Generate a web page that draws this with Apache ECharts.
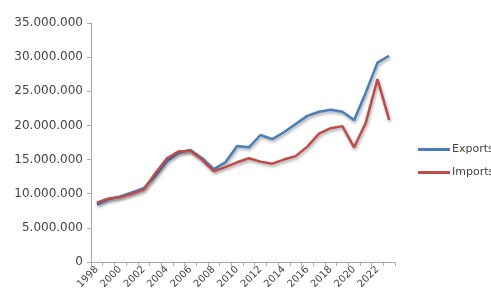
<!DOCTYPE html>
<html>
<head>
<meta charset="utf-8">
<script src="https://cdn.jsdelivr.net/npm/echarts@6/dist/echarts.min.js"></script>
<style>
  html, body { margin: 0; padding: 0; background: #fff; }
  #container { width: 491px; height: 302px; }
</style>
</head>
<body>
<div id="container"></div>
<script>
// years on the category axis
const years = ['1998', '1999', '2000', '2001', '2002', '2003', '2004', '2005', '2006', '2007',
  '2008', '2009', '2010', '2011', '2012', '2013', '2014', '2015', '2016', '2017',
  '2018', '2019', '2020', '2021', '2022', '2023']

// values
const exportsData = [8400000, 9200000, 9600000, 10200000, 10800000, 12600000, 14800000, 16000000, 16400000, 15200000,
  13600000, 14600000, 17000000, 16800000, 18600000, 18000000, 19000000, 20200000, 21400000, 22000000,
  22300000, 22000000, 20800000, 24800000, 29200000, 30200000]
const importsData = [8700000, 9300000, 9500000, 10000000, 10600000, 13000000, 15200000, 16200000, 16300000, 15000000,
  13300000, 13900000, 14600000, 15200000, 14700000, 14400000, 15000000, 15500000, 16900000, 18800000,
  19600000, 19900000, 16800000, 20400000, 26800000, 20800000]

const yTicks = { min: 0, max: 35000000, interval: 5000000 }

// 35000000 -> 35.000.000
function dots (v) {
  return String(v).replace(/\B(?=(\d{3})+(?!\d))/g, '.')
}

const lineShadow = {
  shadowColor: 'rgba(0,0,0,0.35)',
  shadowBlur: 3,
  shadowOffsetX: 1,
  shadowOffsetY: 2
}

const option = {
  animation: false,
  backgroundColor: '#fff',
  textStyle: { fontFamily: 'DejaVu Sans, sans-serif' },
  grid: { left: 91, right: 96, top: 23, bottom: 40 },
  legend: {
    orient: 'vertical',
    left: 413,
    top: 139,
    itemWidth: 32,
    itemHeight: 3,
    itemGap: 12,
    icon: 'rect',
    textStyle: { fontSize: 11, color: '#444', padding: [0, 0, 0, -3] },
    data: ['Exports', 'Imports']
  },
  xAxis: {
    type: 'category',
    data: years,
    boundaryGap: true,
    axisLine: { lineStyle: { color: '#aaa', width: 1 } },
    axisTick: { show: true, interval: 0, length: 4, lineStyle: { color: '#aaa' } },
    axisLabel: { interval: 1, rotate: 45, fontSize: 10, color: '#444', margin: 6 }
  },
  yAxis: {
    type: 'value',
    min: yTicks.min,
    max: yTicks.max,
    interval: yTicks.interval,
    splitLine: { show: false },
    axisLine: { show: true, lineStyle: { color: '#aaa', width: 1 } },
    axisTick: { show: true, length: 4, lineStyle: { color: '#aaa' } },
    axisLabel: { fontSize: 12, color: '#444', margin: 8, formatter: dots }
  },
  series: [
    {
      name: 'Exports',
      type: 'line',
      data: exportsData,
      symbol: 'none',
      color: '#4a7ebb',
      lineStyle: Object.assign({ width: 2.5, color: '#4a7ebb' }, lineShadow)
    },
    {
      name: 'Imports',
      type: 'line',
      data: importsData,
      symbol: 'none',
      color: '#be4b48',
      lineStyle: Object.assign({ width: 2.5, color: '#be4b48' }, lineShadow)
    }
  ]
}

const myChart = echarts.init(document.getElementById('container'))
myChart.setOption(option)
</script>
</body>
</html>
